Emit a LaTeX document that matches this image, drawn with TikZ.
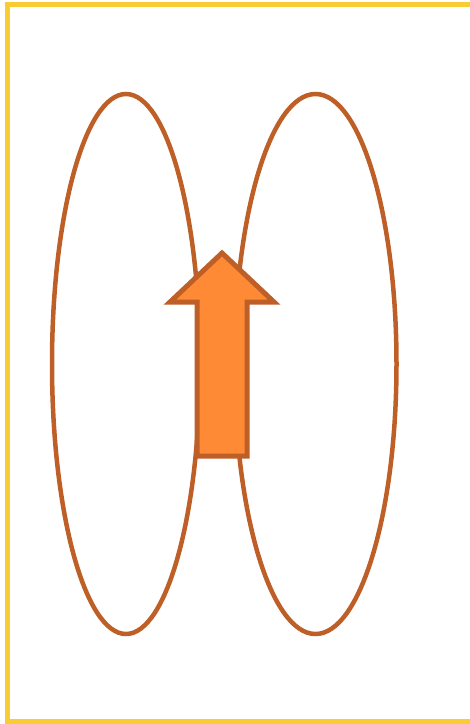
\documentclass[tikz,border=0pt]{standalone}
\usepackage{tikz}
\usetikzlibrary{arrows.meta}
\definecolor{frameYellow}{HTML}{F8CC32}
\definecolor{ringBrown}{HTML}{BE5F28}
\definecolor{arrowOrange}{HTML}{FF8A35}

\begin{document}
\begin{tikzpicture}[x=0.03cm, y=-0.03cm]
    \useasboundingbox (0,0) rectangle (469,724);
    \draw[line width=5*0.03cm, draw=frameYellow] (7.5,4.5) rectangle (480,721.5);

    \draw[line width=4.5*0.03cm, draw=ringBrown] (126,364) ellipse [x radius=74, y radius=270];
    \draw[line width=4.5*0.03cm, draw=ringBrown] (315.5,364) ellipse [x radius=81, y radius=270];

    \draw[line width=5*0.03cm, draw=ringBrown, fill=arrowOrange, line join=miter]
        (197,456) -- (197,302) -- (170,302) -- (222,253) -- (274,302) -- (247,302) -- (247,456) -- cycle;
\end{tikzpicture}
\end{document}
